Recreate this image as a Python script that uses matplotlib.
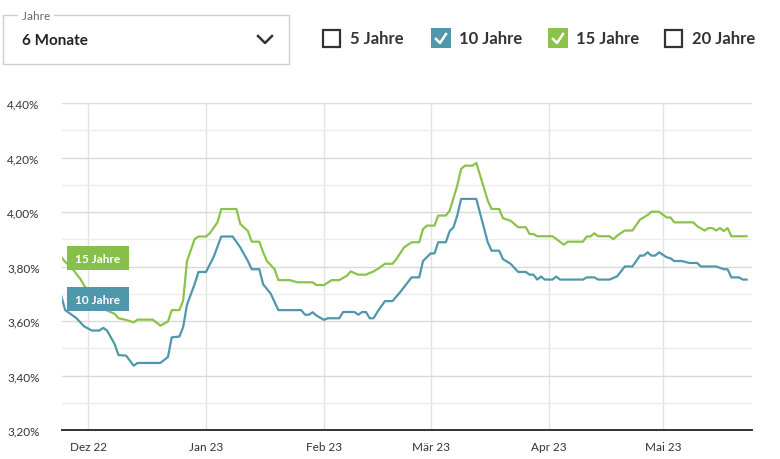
import matplotlib
matplotlib.use("Agg")
import matplotlib.pyplot as plt
import matplotlib.patches as mpatches
from matplotlib.lines import Line2D
import pandas as pd

plt.rcParams['font.family'] = ['Lato', 'DejaVu Sans']

# vertices of the two curves
dates_10 = ['2022-11-24', '2022-11-25', '2022-11-28', '2022-11-30', '2022-12-02', '2022-12-04',
            '2022-12-05', '2022-12-06', '2022-12-08', '2022-12-09', '2022-12-11', '2022-12-13',
            '2022-12-14', '2022-12-20', '2022-12-22', '2022-12-23', '2022-12-25', '2022-12-26',
            '2022-12-27', '2022-12-29', '2022-12-30', '2023-01-01', '2023-01-03', '2023-01-05',
            '2023-01-08', '2023-01-10', '2023-01-12', '2023-01-13', '2023-01-15', '2023-01-16',
            '2023-01-18', '2023-01-20', '2023-01-26', '2023-01-27', '2023-01-28', '2023-01-29',
            '2023-01-30', '2023-02-01', '2023-02-02', '2023-02-05', '2023-02-06', '2023-02-09',
            '2023-02-10', '2023-02-11', '2023-02-12', '2023-02-13', '2023-02-14', '2023-02-15',
            '2023-02-17', '2023-02-19', '2023-02-21', '2023-02-24', '2023-02-26', '2023-02-27',
            '2023-03-01', '2023-03-02', '2023-03-03', '2023-03-05', '2023-03-06', '2023-03-07',
            '2023-03-08', '2023-03-09', '2023-03-13', '2023-03-16', '2023-03-17', '2023-03-19',
            '2023-03-20', '2023-03-22', '2023-03-24', '2023-03-26', '2023-03-27', '2023-03-28',
            '2023-03-29', '2023-03-30', '2023-03-31', '2023-04-02', '2023-04-03', '2023-04-04',
            '2023-04-10', '2023-04-11', '2023-04-13', '2023-04-14', '2023-04-17', '2023-04-19',
            '2023-04-21', '2023-04-23', '2023-04-25', '2023-04-26', '2023-04-27', '2023-04-28',
            '2023-04-29', '2023-04-30', '2023-05-02', '2023-05-03', '2023-05-04', '2023-05-06',
            '2023-05-08', '2023-05-10', '2023-05-11', '2023-05-15', '2023-05-17', '2023-05-18',
            '2023-05-19', '2023-05-21', '2023-05-22', '2023-05-23']
rates_10 = [3.69, 3.64, 3.61, 3.58, 3.565, 3.565,
            3.575, 3.565, 3.515, 3.475, 3.473, 3.436,
            3.446, 3.446, 3.468, 3.54, 3.543, 3.578,
            3.66, 3.735, 3.78, 3.78, 3.835, 3.91,
            3.91, 3.87, 3.82, 3.79, 3.79, 3.735,
            3.70, 3.64, 3.64, 3.623, 3.623, 3.632,
            3.62, 3.604, 3.61, 3.61, 3.633, 3.633,
            3.623, 3.633, 3.633, 3.61, 3.61, 3.633,
            3.673, 3.673, 3.706, 3.76, 3.76, 3.82,
            3.848, 3.848, 3.889, 3.889, 3.93, 3.944,
            3.987, 4.048, 4.048, 3.889, 3.858, 3.858,
            3.827, 3.81, 3.78, 3.78, 3.77, 3.77,
            3.752, 3.763, 3.752, 3.752, 3.763, 3.752,
            3.752, 3.76, 3.76, 3.752, 3.752, 3.764,
            3.80, 3.80, 3.84, 3.84, 3.852, 3.84,
            3.84, 3.852, 3.834, 3.83, 3.82, 3.82,
            3.813, 3.813, 3.80, 3.80, 3.79, 3.79,
            3.76, 3.76, 3.752, 3.752]

dates_15 = ['2022-11-24', '2022-11-25', '2022-11-27', '2022-11-29', '2022-11-30', '2022-12-03',
            '2022-12-05', '2022-12-08', '2022-12-09', '2022-12-11', '2022-12-13', '2022-12-14',
            '2022-12-18', '2022-12-20', '2022-12-22', '2022-12-23', '2022-12-25', '2022-12-26',
            '2022-12-27', '2022-12-29', '2022-12-30', '2023-01-01', '2023-01-02', '2023-01-04',
            '2023-01-05', '2023-01-09', '2023-01-10', '2023-01-12', '2023-01-13', '2023-01-15',
            '2023-01-16', '2023-01-17', '2023-01-19', '2023-01-20', '2023-01-23', '2023-01-25',
            '2023-01-29', '2023-01-30', '2023-02-01', '2023-02-03', '2023-02-05', '2023-02-07',
            '2023-02-08', '2023-02-10', '2023-02-12', '2023-02-14', '2023-02-15', '2023-02-17',
            '2023-02-19', '2023-02-20', '2023-02-22', '2023-02-24', '2023-02-26', '2023-02-27',
            '2023-02-28', '2023-03-02', '2023-03-03', '2023-03-05', '2023-03-06', '2023-03-08',
            '2023-03-09', '2023-03-10', '2023-03-12', '2023-03-13', '2023-03-16', '2023-03-17',
            '2023-03-19', '2023-03-20', '2023-03-22', '2023-03-24', '2023-03-26', '2023-03-27',
            '2023-03-28', '2023-03-29', '2023-04-02', '2023-04-03', '2023-04-05', '2023-04-06',
            '2023-04-10', '2023-04-11', '2023-04-12', '2023-04-13', '2023-04-14', '2023-04-17',
            '2023-04-18', '2023-04-19', '2023-04-21', '2023-04-23', '2023-04-25', '2023-04-27',
            '2023-04-28', '2023-04-30', '2023-05-02', '2023-05-03', '2023-05-04', '2023-05-09',
            '2023-05-10', '2023-05-12', '2023-05-13', '2023-05-14', '2023-05-15', '2023-05-16',
            '2023-05-17', '2023-05-18', '2023-05-19', '2023-05-23']
rates_15 = [3.834, 3.817, 3.79, 3.754, 3.73, 3.68,
            3.645, 3.626, 3.61, 3.604, 3.595, 3.605,
            3.605, 3.583, 3.598, 3.64, 3.64, 3.675,
            3.82, 3.90, 3.91, 3.91, 3.922, 3.962,
            4.011, 4.011, 3.956, 3.93, 3.891, 3.891,
            3.852, 3.82, 3.79, 3.75, 3.75, 3.742,
            3.742, 3.732, 3.732, 3.75, 3.75, 3.766,
            3.782, 3.77, 3.77, 3.782, 3.79, 3.81,
            3.81, 3.827, 3.87, 3.889, 3.889, 3.937,
            3.95, 3.95, 3.987, 3.987, 4.005, 4.097,
            4.158, 4.17, 4.17, 4.18, 4.042, 4.011,
            4.011, 3.977, 3.968, 3.944, 3.944, 3.919,
            3.919, 3.911, 3.911, 3.901, 3.88, 3.891,
            3.891, 3.91, 3.91, 3.922, 3.911, 3.911,
            3.90, 3.913, 3.932, 3.932, 3.972, 3.989,
            4.001, 4.001, 3.98, 3.98, 3.962, 3.962,
            3.948, 3.932, 3.941, 3.941, 3.932, 3.941,
            3.93, 3.941, 3.911, 3.911]

y_ticks = [3.2, 3.4, 3.6, 3.8, 4.0, 4.2, 4.4]
y_labels = ['3,20%', '3,40%', '3,60%', '3,80%', '4,00%', '4,20%', '4,40%']
y_minor = [3.3, 3.5, 3.7, 3.9, 4.1, 4.3]
month_ticks = ['2022-12-01', '2023-01-01', '2023-02-01', '2023-03-01', '2023-04-01', '2023-05-01']
month_labels = ['Dez 22', 'Jan 23', 'Feb 23', 'Mär 23', 'Apr 23', 'Mai 23']
options = ['5 Jahre', '10 Jahre', '15 Jahre', '20 Jahre']

BLUE = '#4f97aa'
GREEN = '#8bc34a'
W, H = 780, 460


def fx(px):
    return px / W


def fy(py):
    return 1 - py / H


fig = plt.figure(figsize=(7.8, 4.6), dpi=100)
ax = fig.add_axes([fx(62), fy(431), fx(752) - fx(62), fy(104) - fy(431)])

ax.plot(pd.to_datetime(dates_15), rates_15, color=GREEN, lw=1.6, zorder=3)
ax.plot(pd.to_datetime(dates_10), rates_10, color=BLUE, lw=1.6, zorder=3)

ax.set_ylim(3.2, 4.4)
ax.set_xlim(pd.Timestamp('2022-11-24 04:00'), pd.Timestamp('2023-05-24 10:00'))
ax.set_yticks(y_ticks)
ax.set_yticklabels(y_labels)
ax.set_yticks(y_minor, minor=True)
ax.set_xticks(pd.to_datetime(month_ticks))
ax.set_xticklabels(month_labels)

ax.grid(True, axis='y', which='major', color='#d9d9d9', lw=1)
ax.grid(True, axis='y', which='minor', color='#ececec', lw=1)
ax.grid(True, axis='x', color='#e2e2e2', lw=1)
ax.set_axisbelow(True)
for side in ['top', 'right', 'left']:
    ax.spines[side].set_visible(False)
ax.spines['bottom'].set_color('#333333')
ax.spines['bottom'].set_linewidth(1.4)
ax.tick_params(axis='both', which='both', length=0, labelsize=8.5, colors='#333333')
ax.tick_params(axis='y', pad=16)
ax.tick_params(axis='x', pad=8)

# series labels at the start of the lines
trans = ax.get_yaxis_transform()
box_h = 24 / 272.5
for label, val, col in [('15 Jahre', rates_15[0] - 0.003, '#86c04a'), ('10 Jahre', rates_10[0] - 0.01, BLUE)]:
    ax.add_patch(mpatches.Rectangle((5 / 690, val - box_h / 2), 62 / 690, box_h, transform=trans,
                                    fc=col, ec='none', zorder=5, clip_on=False))
    ax.text(36 / 690, val, label, transform=trans, ha='center', va='center',
            color='white', fontsize=8.5, fontweight='bold', zorder=6)

# dropdown
fig.add_artist(mpatches.Rectangle((fx(3), fy(65)), fx(289) - fx(3), fy(16) - fy(65),
                                  transform=fig.transFigure, fill=False, ec='#cfcfcf', lw=1))
fig.text(fx(19), fy(16), ' Jahre ', fontsize=8.5, color='#666666', va='center', ha='left',
         bbox=dict(boxstyle='square,pad=0.1', fc='white', ec='none'))
fig.text(fx(22), fy(41), '6 Monate', fontsize=11, fontweight='bold', color='#222222', va='center')
fig.add_artist(Line2D([fx(258), fx(265), fx(272)], [fy(37), fy(44), fy(37)],
                      transform=fig.transFigure, color='#333333', lw=1.8))

# checkboxes
box_x = [323, 432, 549, 665]
box_fill = [None, BLUE, GREEN, None]
for name, bx, fill in zip(options, box_x, box_fill):
    if fill is None:
        fig.add_artist(mpatches.Rectangle((fx(bx), fy(48)), fx(17), 17 / H, transform=fig.transFigure,
                                          fill=False, ec='#333333', lw=1.6))
    else:
        fig.add_artist(mpatches.Rectangle((fx(bx - 1), fy(49)), fx(20), 20 / H, transform=fig.transFigure,
                                          fc=fill, ec='none'))
        fig.add_artist(Line2D([fx(bx + 4), fx(bx + 8), fx(bx + 14)], [fy(40), fy(44), fy(35)],
                              transform=fig.transFigure, color='white', lw=1.8))
    fig.text(fx(bx + 27), fy(39), name, fontsize=12, fontweight='bold', color='#333333', va='center')

fig.savefig('out.png', dpi=100)
